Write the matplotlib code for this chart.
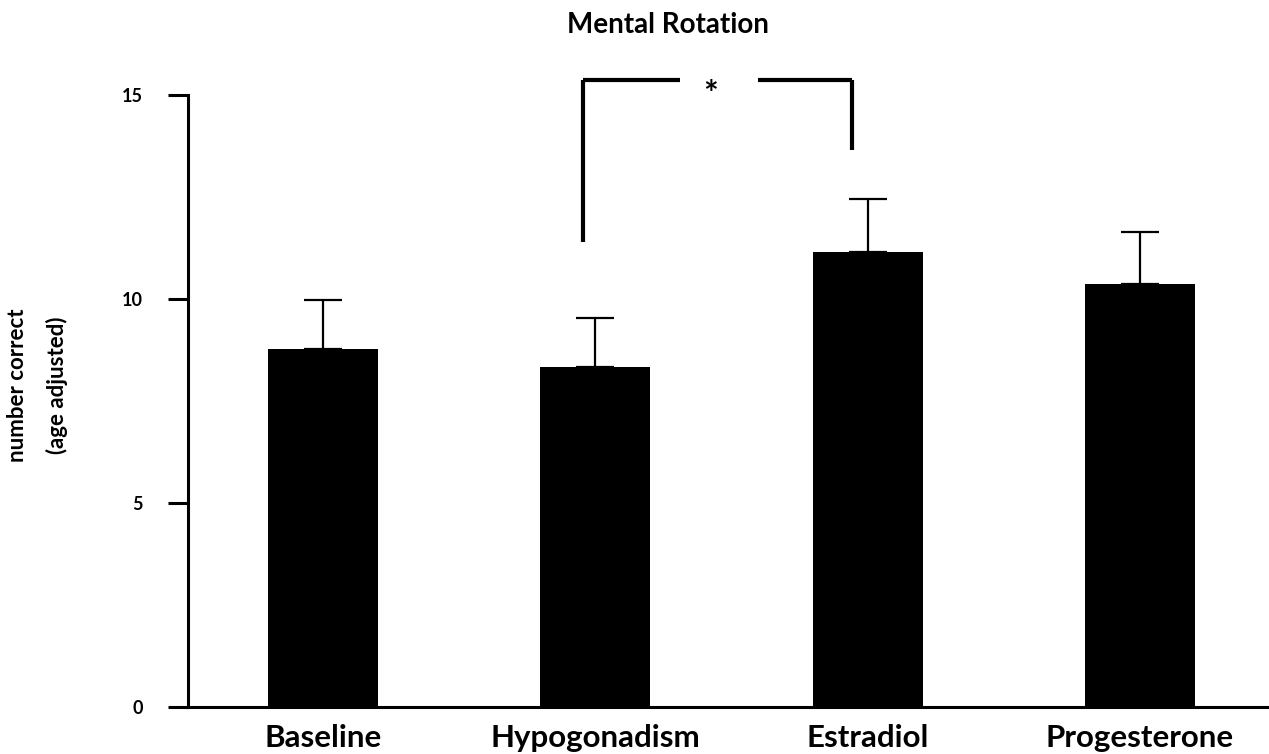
import matplotlib
matplotlib.use("Agg")
import matplotlib.pyplot as plt

categories = ["Baseline", "Hypogonadism", "Estradiol", "Progesterone"]
means = [8.77, 8.33, 11.15, 10.37]
errors = [1.21, 1.20, 1.30, 1.27]
yticks = [0, 5, 10, 15]

plt.rcParams['font.family'] = ['Lato', 'DejaVu Sans']
plt.rcParams['font.weight'] = 'bold'

fig = plt.figure(figsize=(12.69, 7.54), dpi=100)
ax = fig.add_axes([188/1269, 1-707/754, 1-188/1269, (707-95)/754])

x = list(range(len(categories)))
ax.bar(x, means, width=0.404, color='black', zorder=2)
ax.errorbar(x, means, yerr=[[0]*len(means), errors], fmt='none', ecolor='black',
            elinewidth=1.6, capsize=14, capthick=1.6, zorder=1)

ax.set_xlim(-0.496, 3.474)
ax.set_ylim(0, 15)
ax.set_yticks(yticks)
ax.set_yticklabels([str(t) for t in yticks], fontsize=13, fontweight='bold')
ax.set_xticks(x)
ax.set_xticklabels(categories, fontsize=22.5, fontweight='bold')
ax.tick_params(axis='y', direction='out', length=14.5, width=2.2, pad=18)
ax.tick_params(axis='x', length=0, pad=12)
for s in ['top', 'right']:
    ax.spines[s].set_visible(False)
for s in ['left', 'bottom']:
    ax.spines[s].set_linewidth(2.2)

# significance bracket
lw = 3
kw = dict(color='black', lw=lw, clip_on=False, solid_capstyle='butt')
ax.plot([0.956, 0.956], [11.40, 15.37], **kw)
ax.plot([0.956, 1.312], [15.37, 15.37], **kw)
ax.plot([1.599, 1.941], [15.37, 15.37], **kw)
ax.plot([1.941, 1.941], [15.37, 13.65], **kw)
ax.text(1.423, 15.0, '*', ha='center', va='center', fontsize=25, fontweight='bold')

fig.text(668/1269, 1-25/754, 'Mental Rotation', ha='center', va='center',
         fontsize=20, fontweight='bold')
fig.text(18/1269, 1-385/754, 'number correct', rotation=90, ha='center', va='center',
         fontsize=16, fontweight='bold')
fig.text(57/1269, 1-385/754, '(age adjusted)', rotation=90, ha='center', va='center',
         fontsize=16, fontweight='bold')

fig.savefig('out.png', dpi=100)
